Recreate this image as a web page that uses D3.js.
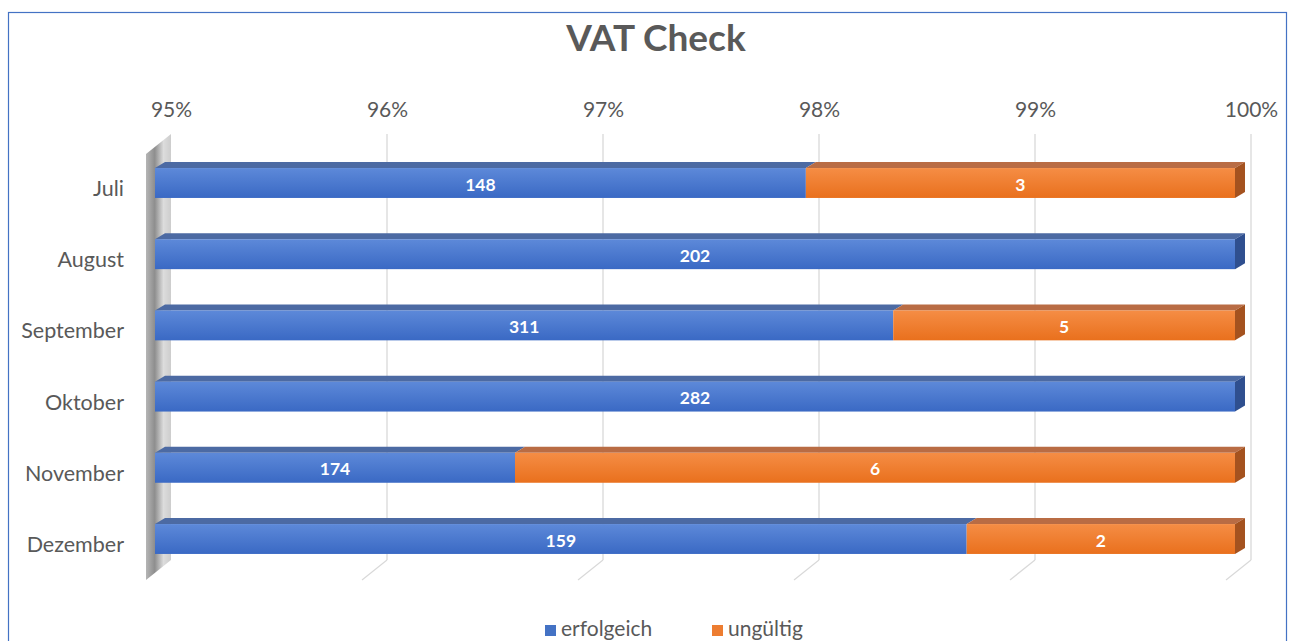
<!DOCTYPE html>
<html><head><meta charset="utf-8">
<script src="https://cdn.jsdelivr.net/npm/d3@7"></script>
<style>html,body{margin:0;padding:0;background:#fff;}svg{display:block;}</style>
</head><body>
<svg id="c" width="1292" height="641"></svg>
<script>
const months = ["Juli","August","September","Oktober","November","Dezember"];
const erfolgreich = [148,202,311,282,174,159];
const ungueltig = [3,0,5,0,6,2];
const seriesKeys = ["erfolgeich","ungültig"];
const tickValues = [0.95,0.96,0.97,0.98,0.99,1.00];
const title = "VAT Check";

const FONT = "Lato, 'Open Sans', sans-serif";
const svg = d3.select("#c");
const defs = svg.append("defs");

function vgrad(id, c1, c2){
  const g = defs.append("linearGradient").attr("id",id).attr("x1",0).attr("y1",0).attr("x2",0).attr("y2",1);
  g.append("stop").attr("offset","0%").attr("stop-color",c1);
  g.append("stop").attr("offset","100%").attr("stop-color",c2);
}
vgrad("gBlue","#5d89d9","#3a69c4");
vgrad("gOrange","#f58d45","#e9701d");
const wg = defs.append("linearGradient").attr("id","gWall").attr("x1",0).attr("y1",0).attr("x2",1).attr("y2",0);
[["0%","#a8a8a8"],["35%","#7a7a7a"],["70%","#d6d6d6"],["100%","#c4c4c4"]].forEach(s=>wg.append("stop").attr("offset",s[0]).attr("stop-color",s[1]));

// frame
svg.append("rect").attr("x",8.5).attr("y",12.5).attr("width",1278).attr("height",700)
  .attr("fill","none").attr("stroke","#4472c4").attr("stroke-width",1.2);

// title
svg.append("text").attr("x",656).attr("y",51).attr("text-anchor","middle")
  .style("font-family",FONT).style("font-weight","bold").style("font-size","37px").attr("fill","#595959").text(title);

const data = months.map((m,i)=>({month:m, "erfolgeich":erfolgreich[i], "ungültig":ungueltig[i]}));
const stack = d3.stack().keys(seriesKeys).offset(d3.stackOffsetExpand);
const layers = stack(data);

const x = d3.scaleLinear().domain([0.95,1]).range([155,1235]);
const xBack = d3.scaleLinear().domain([0.95,1]).range([171,1251]);
const y = d3.scaleBand().domain(months).range([147.4,574.6]).paddingInner(0.58).paddingOuter(0.29);

const wallTop = 134, wallBot = 560, depthX = 25, depthY = 20;

// gridlines on back wall + floor
const grid = svg.append("g");
tickValues.forEach((t,i)=>{
  if(i===0) return;
  const xb = xBack(t);
  grid.append("line").attr("x1",xb).attr("x2",xb).attr("y1",wallTop).attr("y2",wallBot).attr("stroke","#d9d9d9").attr("stroke-width",1.3);
  grid.append("line").attr("x1",xb).attr("x2",xb-depthX).attr("y1",wallBot).attr("y2",wallBot+depthY).attr("stroke","#d9d9d9").attr("stroke-width",1.3);
});
// left wall
const x0 = xBack(0.95);
svg.append("path").attr("d",`M${x0},${wallTop} L${x0},${wallBot} L${x0-depthX},${wallBot+depthY} L${x0-depthX},${wallTop+depthY} Z`)
  .attr("fill","url(#gWall)").attr("opacity",0.85);

// top axis
const axTop = svg.append("g").attr("transform","translate(0,120)")
  .call(d3.axisTop(xBack).tickValues(tickValues).tickFormat(d3.format(".0%")).tickSize(0));
axTop.select(".domain").remove();
axTop.selectAll("text").style("font-family",FONT).style("font-size","21px").attr("fill","#595959");

// left axis
const axLeft = svg.append("g").attr("transform","translate(124,0)")
  .call(d3.axisLeft(y).tickSize(0).tickPadding(0));
axLeft.select(".domain").remove();
axLeft.selectAll("text").style("font-family",FONT).style("font-size","21.5px").attr("fill","#595959").attr("dy","0.6em");

// bars
const dX = 10, dY = 6;
const colors = {"erfolgeich":{front:"url(#gBlue)",top:"#4c6aa3",side:"#2f4f8f"},
                "ungültig":{front:"url(#gOrange)",top:"#b96c44",side:"#a4521f"}};
const barG = svg.append("g");
layers.forEach((layer,li)=>{
  const key = layer.key;
  layer.forEach((d,i)=>{
    const v0 = Math.max(d[0],0.95), v1 = d[1];
    if(v1 <= 0.95 || d[1]-d[0] <= 0) return;
    const xa = x(v0), xb = x(v1);
    const yt = y(months[i]), h = y.bandwidth();
    barG.append("path").attr("d",`M${xa},${yt} L${xa+dX},${yt-dY} L${xb+dX},${yt-dY} L${xb},${yt} Z`).attr("fill",colors[key].top);
    barG.append("rect").attr("x",xa).attr("y",yt).attr("width",xb-xa).attr("height",h).attr("fill",colors[key].front);
    if(Math.abs(v1-1)<1e-9){
      barG.append("path").attr("d",`M${xb},${yt} L${xb+dX},${yt-dY} L${xb+dX},${yt+h-dY} L${xb},${yt+h} Z`).attr("fill",colors[key].side);
    }
    const val = key==="erfolgeich" ? erfolgreich[i] : ungueltig[i];
    barG.append("text").attr("x",(xa+xb)/2).attr("y",yt+h/2+1.5).attr("dy","0.35em").attr("text-anchor","middle")
      .style("font-family",FONT).style("font-weight","bold").style("font-size","17.5px").attr("fill","#ffffff").text(val);
  });
});

// legend
const legend = svg.append("g").attr("transform","translate(0,629)");
const legItems = [{k:"erfolgeich",c:"#4472c4",x:545},{k:"ungültig",c:"#ed7d31",x:712}];
legItems.forEach(it=>{
  legend.append("rect").attr("x",it.x).attr("y",-4).attr("width",11).attr("height",11).attr("fill",it.c);
  legend.append("text").attr("x",it.x+16).attr("y",0).attr("dy","0.35em")
    .style("font-family",FONT).style("font-size","21px").attr("fill","#595959").text(it.k);
});
</script>
</body></html>
